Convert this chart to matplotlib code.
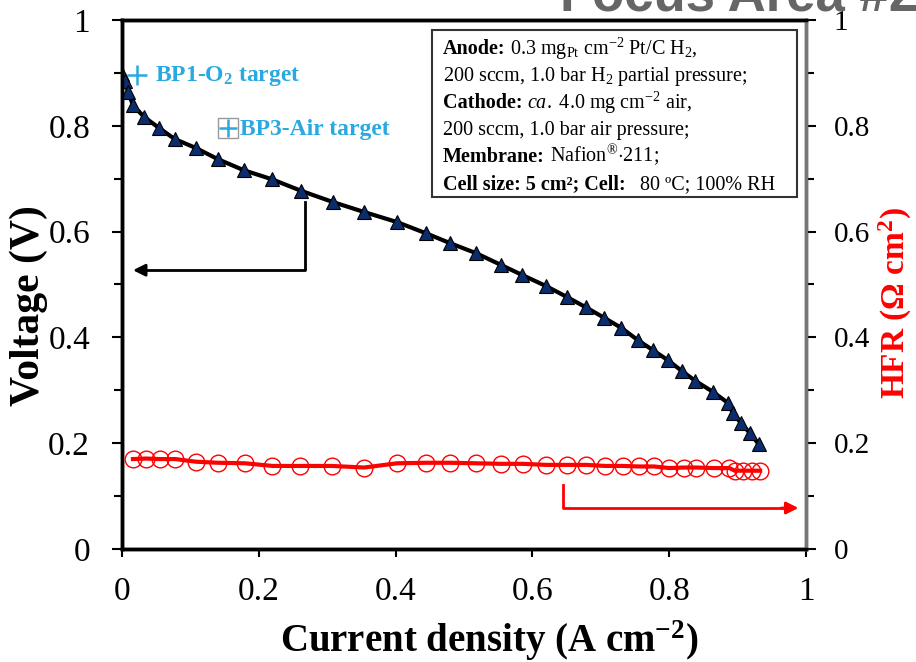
import numpy as np
from matplotlib import pyplot as plt
from matplotlib.ticker import MultipleLocator

plt.rcParams['font.family'] = ['Liberation Serif', 'DejaVu Serif']
plt.rcParams['mathtext.fontset'] = 'custom'
plt.rcParams['mathtext.rm'] = 'Liberation Serif'
plt.rcParams['mathtext.it'] = 'Liberation Serif:italic'
plt.rcParams['mathtext.bf'] = 'Liberation Serif:bold'

# polarization curve (voltage)
currentV = [0.0, 0.004, 0.009, 0.016, 0.032, 0.054, 0.077, 0.108, 0.140, 0.178, 0.219,
            0.262, 0.308, 0.354, 0.402, 0.444, 0.480, 0.518, 0.554, 0.585, 0.620,
            0.651, 0.678, 0.705, 0.730, 0.754, 0.776, 0.798, 0.819, 0.838, 0.864,
            0.886, 0.893, 0.905, 0.918, 0.931]
voltage = [0.898, 0.885, 0.864, 0.839, 0.817, 0.796, 0.775, 0.758, 0.737, 0.716, 0.699,
           0.677, 0.656, 0.637, 0.618, 0.597, 0.578, 0.559, 0.537, 0.518, 0.497,
           0.476, 0.457, 0.437, 0.418, 0.395, 0.376, 0.357, 0.336, 0.318, 0.297,
           0.276, 0.257, 0.238, 0.219, 0.198]

# high frequency resistance
currentH = [0.016, 0.035, 0.055, 0.078, 0.108, 0.141, 0.180, 0.220, 0.260, 0.307,
            0.354, 0.402, 0.445, 0.480, 0.518, 0.554, 0.586, 0.620, 0.651, 0.679,
            0.706, 0.732, 0.756, 0.778, 0.800, 0.821, 0.839, 0.865, 0.888, 0.896,
            0.908, 0.921, 0.933]
hfr = [0.170, 0.171, 0.170, 0.170, 0.165, 0.163, 0.162, 0.157, 0.157, 0.157,
       0.154, 0.162, 0.163, 0.163, 0.162, 0.161, 0.161, 0.159, 0.159, 0.159,
       0.157, 0.157, 0.156, 0.156, 0.153, 0.154, 0.154, 0.153, 0.153, 0.148,
       0.148, 0.148, 0.148]

bp1 = (0.022, 0.896)
bp3 = (0.155, 0.796)

# test conditions, (text, weight) pieces per line
conditions = [
    [('Anode:', 'bold'), (r' 0.3 mg$_{\mathrm{Pt}}$ cm$^{-2}$ Pt/C H$_2$,', 'normal')],
    [(r'200 sccm, 1.0 bar H$_2$ partial pressure;', 'normal')],
    [('Cathode:', 'bold'), (r' $\mathit{ca.}$ 4.0 mg cm$^{-2}$ air,', 'normal')],
    [('200 sccm, 1.0 bar air pressure;', 'normal')],
    [('Membrane:', 'bold'), (r' Nafion$^{\circledR}$$\cdot$211;', 'normal')],
    [('Cell size: 5 cm²; Cell:', 'bold'), ('   80 ºC; 100% RH', 'normal')],
]

navy = '#0b2d6e'
cyan = '#29a9e0'
red = '#ff0000'

fig = plt.figure(figsize=(9.16, 6.62), dpi=100)
ax = fig.add_axes([0.1332, 0.1707, 0.7467, 0.7991])
ax2 = ax.twinx()

ax.plot(currentV, voltage, color='black', lw=3, marker='^', ms=10,
        mfc=navy, mec='black', mew=0.8, zorder=3)
ax2.plot(currentH, hfr, color=red, lw=3, marker='o', ms=12,
         mfc='none', mec=red, mew=1.0, zorder=3)

ax.plot(*bp1, marker='+', ms=14, mew=1.8, color=cyan, ls='none')
ax.plot(*bp3, marker='s', ms=14, mfc='white', mec='#999999', mew=1, ls='none')
ax.plot(*bp3, marker='+', ms=13, mew=1.8, color=cyan, ls='none')
ax.text(0.048, 0.894, r'BP1-O$_\mathbf{2}$ target', color=cyan, fontsize=17,
        fontweight='bold', va='center')
ax.text(0.173, 0.793, 'BP3-Air target', color=cyan, fontsize=17,
        fontweight='bold', va='center')

# direction arrows
ax.plot([0.268, 0.268, 0.03], [0.655, 0.527, 0.527], color='black', lw=2)
ax.annotate('', xy=(0.012, 0.527), xytext=(0.04, 0.527),
            arrowprops=dict(arrowstyle='-|>', color='black', lw=2, mutation_scale=18))
ax2.plot([0.645, 0.645, 0.97], [0.121, 0.0775, 0.0775], color=red, lw=2)
ax2.annotate('', xy=(0.993, 0.0775), xytext=(0.96, 0.0775),
             arrowprops=dict(arrowstyle='-|>', color=red, lw=2, mutation_scale=18))


def fmt(v, p):
    v = round(v, 6)
    if v == 0:
        return '0'
    if v == 1:
        return '1'
    return f'{v:.1f}'


for a in (ax, ax2):
    a.set_xlim(0, 1)
    a.set_ylim(0, 1)
    a.yaxis.set_major_locator(MultipleLocator(0.2))
    a.yaxis.set_minor_locator(MultipleLocator(0.1))
    a.tick_params(which='both', direction='out', width=1.5)
    a.tick_params(which='major', length=7)
    a.tick_params(which='minor', length=6)
    for s in a.spines.values():
        s.set_linewidth(2.5)
    a.spines['right'].set_color('#777777')
    a.yaxis.set_major_formatter(fmt)

ax.xaxis.set_major_locator(MultipleLocator(0.2))
ax.xaxis.set_major_formatter(fmt)
ax.tick_params(axis='x', length=6, labelsize=24, pad=14)
ax.tick_params(axis='y', labelsize=24, pad=16)
ax2.tick_params(axis='y', labelsize=21, pad=13)

ax.set_xlabel(r'Current density (A cm$^\mathbf{-2}$)', fontsize=28, fontweight='bold', labelpad=8)
ax.xaxis.label.set_x(0.537)
ax.set_ylabel('Voltage (V)', fontsize=30, fontweight='bold', labelpad=0)
ax.yaxis.label.set_y(0.46)
ax2.set_ylabel(r'HFR ($\mathbf{\Omega}$ cm$^\mathbf{2}$)', fontsize=24, fontweight='bold',
               color=red, labelpad=5)
ax2.yaxis.label.set_y(0.465)

# test conditions box
ax.add_patch(plt.Rectangle((0.453, 0.665), 0.534, 0.316, transform=ax.transAxes,
                           fill=True, fc='white', ec='#333333', lw=1.5, zorder=4))
renderer = fig.canvas.get_renderer()
for i, pieces in enumerate(conditions):
    x = 0.469
    y = 0.935 - i * 0.051
    for s, w in pieces:
        t = ax.text(x, y, s, transform=ax.transAxes, fontsize=14.5, fontweight=w,
                    va='baseline', ha='left', zorder=5)
        bb = t.get_window_extent(renderer=renderer)
        x = ax.transAxes.inverted().transform((bb.x1, bb.y0))[0]

fig.text(560 / 916, 1 - 11 / 662, 'Focus Area #2', ha='left', va='baseline',
         fontsize=38, fontweight='bold', color='#666666', family='Liberation Sans')

fig.savefig('out.png', dpi=100)
